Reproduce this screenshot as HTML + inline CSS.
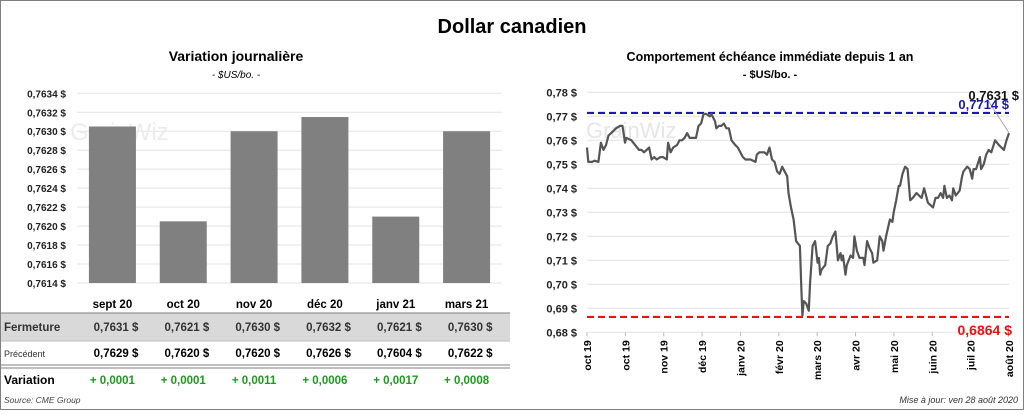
<!DOCTYPE html>
<html><head><meta charset="utf-8"><style>
body{margin:0;width:1024px;height:410px;overflow:hidden;background:#fff;font-family:"Liberation Sans",sans-serif}
svg text{font-family:"Liberation Sans",sans-serif}
</style></head><body>
<svg id="s" width="1024" height="410" xmlns="http://www.w3.org/2000/svg">
<rect x="0.5" y="0.5" width="1023" height="409" fill="#fff" stroke="#7f7f7f"/>
<text x="512" y="33" text-anchor="middle" font-size="20" font-weight="bold">Dollar canadien</text>
<text x="236" y="61" text-anchor="middle" font-size="14" font-weight="bold">Variation  journalière</text>
<text x="236" y="78" text-anchor="middle" font-size="10" font-style="italic">- $US/bo. -</text>
<text x="770" y="61" text-anchor="middle" font-size="12.5" font-weight="bold">Comportement échéance immédiate depuis 1 an</text>
<text x="770" y="78" text-anchor="middle" font-size="11" font-weight="bold">- $US/bo. -</text>
<g id="left"></g>
<g id="right"></g>
<g id="table">
<rect x="1" y="313" width="509" height="28" fill="#d9d9d9"/>
<line x1="1" y1="313" x2="510" y2="313" stroke="#7f7f7f"/>
<line x1="1" y1="341" x2="510" y2="341" stroke="#bfbfbf"/>
<line x1="1" y1="365" x2="510" y2="365" stroke="#7f7f7f"/>
<line x1="1" y1="368" x2="510" y2="368" stroke="#7f7f7f"/>
<text x="4" y="331" font-size="11.5" font-weight="bold" fill="#333">Fermeture</text>
<text x="4" y="357" font-size="9" fill="#333">Précédent</text>
<text x="4" y="384" font-size="12" font-weight="bold">Variation</text>
<text x="4" y="403" font-size="8.5" font-style="italic" fill="#444">Source: CME Group</text>
</g>
<text x="1018" y="403" text-anchor="end" font-size="9" font-style="italic" fill="#333">Mise à jour: ven 28 août 2020</text>
</svg>
<script>
const NS="http://www.w3.org/2000/svg";
const barCats=["sept 20","oct 20","nov 20","déc 20","janv 21","mars 21"];
const barValues=[0.76305,0.76205,0.7630,0.76315,0.7621,0.7630];
const leftTicks=[0.7614,0.7616,0.7618,0.7620,0.7622,0.7624,0.7626,0.7628,0.7630,0.7632,0.7634];
const closeVals=["0,7631","0,7621","0,7630","0,7632","0,7621","0,7630"];
const prevVals=["0,7629","0,7620","0,7620","0,7626","0,7604","0,7622"];
const varVals=["+ 0,0001","+ 0,0001","+ 0,0011","+ 0,0006","+ 0,0017","+ 0,0008"];
const lineDays=[0,1,4,6,9,11,13,15,17,21,23,26,28,30,31,35,38,41,43,45,47,49,51,53,55,58,60,63,64,66,68,71,73,75,77,79,81,84,86,88,90,92,94,97,98,101,102,104,106,108,110,112,114,117,119,121,123,125,129,133,134,136,140,142,144,146,148,150,152,154,155,158,159,161,163,165,168,169,170,171,173,175,176,178,180,182,183,184,185,188,190,192,194,196,197,198,200,201,202,204,205,208,210,211,213,215,218,219,221,223,225,226,229,231,233,234,236,239,241,242,244,246,247,249,251,253,255,257,260,262,264,266,267,269,271,273,275,277,279,281,282,284,286,288,289,291,294,296,297,300,302,304,305,307,310,311,313,315,317,319,322,325,327,329,331,333];
const lineValues=[0.757,0.751,0.751,0.7515,0.751,0.759,0.756,0.758,0.762,0.764,0.765,0.766,0.766,0.759,0.761,0.760,0.758,0.756,0.756,0.755,0.756,0.757,0.752,0.753,0.752,0.753,0.753,0.752,0.759,0.755,0.757,0.758,0.760,0.760,0.761,0.763,0.761,0.761,0.761,0.766,0.767,0.771,0.771,0.770,0.771,0.768,0.765,0.766,0.766,0.767,0.765,0.765,0.760,0.758,0.757,0.755,0.753,0.752,0.752,0.751,0.754,0.755,0.755,0.754,0.757,0.752,0.751,0.747,0.746,0.749,0.748,0.745,0.738,0.732,0.727,0.718,0.716,0.700,0.687,0.693,0.692,0.689,0.700,0.716,0.718,0.709,0.711,0.704,0.706,0.708,0.716,0.717,0.720,0.722,0.716,0.710,0.713,0.710,0.712,0.704,0.708,0.712,0.711,0.720,0.714,0.711,0.711,0.708,0.718,0.715,0.713,0.709,0.710,0.720,0.718,0.714,0.720,0.727,0.726,0.730,0.735,0.741,0.741,0.746,0.749,0.748,0.735,0.736,0.738,0.737,0.736,0.740,0.738,0.734,0.733,0.732,0.736,0.736,0.738,0.736,0.741,0.736,0.737,0.735,0.740,0.737,0.739,0.745,0.747,0.749,0.748,0.744,0.748,0.748,0.753,0.748,0.750,0.754,0.756,0.755,0.760,0.758,0.757,0.756,0.760,0.763];
const rightTicks=[0.68,0.69,0.70,0.71,0.72,0.73,0.74,0.75,0.76,0.77,0.78];
const monthLabels=["oct 19","oct 19","nov 19","déc 19","janv 20","févr 20","mars 20","avr 20","mai 20","juin 20","juil 20","août 20"];
const maxVal=0.7714, minVal=0.6864, lastVal=0.7631;

function mk(tag,attrs,parent,txt){const e=document.createElementNS(NS,tag);for(const k in attrs)e.setAttribute(k,attrs[k]);if(txt!==undefined)e.textContent=txt;parent.appendChild(e);return e;}
const fmt=(v,d)=>v.toFixed(d).replace('.',',')+' $';

const L=document.getElementById('left');
const lx0=77,lx1=502,ly0=283,ly1=93.3,lmin=0.7614,lmax=0.7634;
const ly=v=>ly0-(v-lmin)/(lmax-lmin)*(ly0-ly1);
const bw=(lx1-lx0)/barCats.length;
leftTicks.forEach(t=>{
 const g=mk('line',{x1:lx0,x2:lx1,y1:ly(t),y2:ly(t),stroke:'#e3e3e3'},L);
 
 
 const tx=mk('text',{x:66,y:ly(t)+4,'text-anchor':'end','font-size':10,'font-weight':'bold',fill:'#222'},L,fmt(t,4));
 
 
});
const w1=mk('text',{x:70,y:140,'font-size':24,fill:'#ececec'},L,'GrainWiz');


barCats.forEach((c,i)=>{
 const cx=lx0+bw*(i+0.5);
 const r=mk('rect',{x:cx-23.5,y:ly(barValues[i]),width:47,height:ly0-ly(barValues[i]),fill:'#808080'},L);
 
 
 const T=document.getElementById('table');
 const h=mk('text',{x:cx,y:308,'text-anchor':'middle','font-size':11.5,'font-weight':'bold'},T,c);
 
 
 const a=mk('text',{x:cx+26,y:331,'text-anchor':'end','font-size':11.5,'font-weight':'bold',fill:'#333','xml:space':'preserve'},T,closeVals[i]+'  $');
 
 
 const b=mk('text',{x:cx+26,y:357,'text-anchor':'end','font-size':11.5,'font-weight':'bold','xml:space':'preserve'},T,prevVals[i]+'  $');
 
 
 const d=mk('text',{x:cx,y:384,'text-anchor':'middle','font-size':11.5,'font-weight':'bold',fill:'#1e9a1e'},T,varVals[i]);
 
 
});

const R=document.getElementById('right');
const rx0=587,rx1=1009,ry0=332.3,ry1=92.3,rmin=0.68,rmax=0.78,dmax=333;
const rx=d=>rx0+d/dmax*(rx1-rx0);
const ry=v=>ry0-(v-rmin)/(rmax-rmin)*(ry0-ry1);
rightTicks.forEach(t=>{
 const g=mk('line',{x1:rx0,x2:rx1,y1:ry(t),y2:ry(t),stroke:'#e3e3e3'},R);
 
 
 const tx=mk('text',{x:577,y:ry(t)+4,'text-anchor':'end','font-size':11,'font-weight':'bold',fill:'#222'},R,fmt(t,2));
 
 
});
const w2=mk('text',{x:586,y:138,'font-size':22,fill:'#e6e6e6'},R,'GrainWiz');


const step=(rx1-rx0)/(monthLabels.length-1);
monthLabels.forEach((m,i)=>{
 const x=rx0+step*i;
 const tk=mk('line',{x1:x,x2:x,y1:ry0,y2:ry0+4,stroke:'#bbb'},R);
 
 
 const t=mk('text',{x:0,y:0,'text-anchor':'end','font-size':10.5,'font-weight':'bold',transform:`translate(${x+4},${ry0+8}) rotate(-90)`},R,m);
 
 
});
const hi=mk('line',{x1:rx0,x2:rx1,y1:ry(maxVal),y2:ry(maxVal),stroke:'#1a1ab0','stroke-width':2.2,'stroke-dasharray':'7,4'},R);


const lo=mk('line',{x1:rx0,x2:rx1,y1:ry(minVal),y2:ry(minVal),stroke:'#ee1111','stroke-width':2.2,'stroke-dasharray':'7,4'},R);


const pts=lineDays.map((d,i)=>rx(d).toFixed(1)+','+ry(lineValues[i]).toFixed(1)).join(' ');
const pl=mk('polyline',{points:pts,fill:'none',stroke:'#555','stroke-width':2.2,'stroke-linejoin':'round'},R);


const lastD=lineDays[lineDays.length-1];
const ld=mk('line',{x1:987,y1:99,x2:rx(lastD),y2:ry(lastVal),stroke:'#999','stroke-width':0.8},R);


const ml=mk('text',{x:1009,y:ry(maxVal)-4,'text-anchor':'end','font-size':13,'font-weight':'bold',fill:'#1a1ab0'},R,fmt(maxVal,4).replace(' $','  $'));


const la=mk('text',{x:1019,y:100,'text-anchor':'end','font-size':13,'font-weight':'bold',fill:'#111'},R,fmt(lastVal,4));


const nl=mk('text',{x:1012,y:ry(minVal)+18,'text-anchor':'end','font-size':14,'font-weight':'bold',fill:'#ee1111','xml:space':'preserve'},R,'0,6864  $');


</script>
</body></html>
